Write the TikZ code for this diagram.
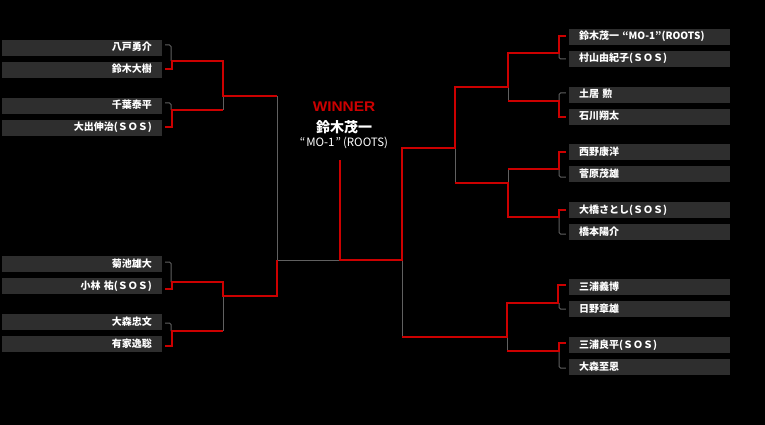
\documentclass[tikz,border=0pt]{standalone}
\usepackage{fontspec}
\newfontfamily\jp{Noto Sans CJK JP}
\newfontfamily\lsans{Liberation Sans}[BoldFont={Liberation Sans Bold}]
\definecolor{boxgray}{HTML}{2E2E2E}
\definecolor{wred}{HTML}{CC0000}
\definecolor{lgray}{HTML}{606060}
\tikzset{
  namebox/.style={fill=boxgray, text=white, minimum height=16pt, inner ysep=0pt, inner xsep=10pt,
    font=\jp\bfseries\fontsize{10}{10}\selectfont, text height=7.5pt, text depth=1.5pt},
  lbox/.style={namebox, text width=140pt, align=right},
  rbox/.style={namebox, text width=141pt, align=left},
  win/.style={draw=wred, line width=2pt},
  lose/.style={draw=lgray, line width=1pt},
  stub/.style={lose, rounded corners=1.5pt},
}
\begin{document}
\begin{tikzpicture}[x=1pt,y=-1pt]
\fill[black] (0,0) rectangle (765,425);
\useasboundingbox (0,0) rectangle (765,425);
% left boxes
\node[lbox] (L1) at (82,48) {八戸勇介};
\node[lbox] (L2) at (82,70) {鈴木大樹};
\node[lbox] (L3) at (82,106) {千葉泰平};
\node[lbox] (L4) at (82,128) {大出伸治(ＳＯＳ)};
\node[lbox] (L5) at (82,264) {菊池雄大};
\node[lbox] (L6) at (82,286) {小林 祐(ＳＯＳ)};
\node[lbox] (L7) at (82,322) {大森忠文};
\node[lbox] (L8) at (82,344) {有家逸聡};
% right boxes
\node[rbox] (R1) at (649.5,37) {鈴木茂一 “MO-1”(ROOTS)};
\node[rbox] (R2) at (649.5,59) {村山由紀子(ＳＯＳ)};
\node[rbox] (R3) at (649.5,95) {土居 勲};
\node[rbox] (R4) at (649.5,117) {石川翔太};
\node[rbox] (R5) at (649.5,152) {西野康洋};
\node[rbox] (R6) at (649.5,174) {菅原茂雄};
\node[rbox] (R7) at (649.5,210) {大橋さとし(ＳＯＳ)};
\node[rbox] (R8) at (649.5,232) {橋本陽介};
\node[rbox] (R9) at (649.5,287) {三浦義博};
\node[rbox] (R10) at (649.5,309) {日野章雄};
\node[rbox] (R11) at (649.5,345) {三浦良平(ＳＯＳ)};
\node[rbox] (R12) at (649.5,367) {大森至恩};
% winner
\node[text=wred, font=\lsans\bfseries\fontsize{14}{15}\selectfont, xscale=1.1, inner sep=0pt] (WL) at (344,107) {WINNER};
\node[text=white, font=\jp\bfseries\fontsize{14}{15}\selectfont, inner sep=0pt] (WN) at (344,127.5) {鈴木茂一};
\node[text=white, font=\jp\fontsize{11.5}{12}\selectfont, inner sep=0pt] (WT) at (344,143) {“\kern1pt MO-1\kern1pt”\kern2pt(ROOTS)};
\coordinate (stem) at (340,160);
% ---- gray (losing) lines ----
\draw[stub] ([xshift=3pt,yshift=3pt]L1.east) -| (171,61);
\draw[stub] ([xshift=3pt,yshift=3pt]L3.east) -| (171,110);
\draw[stub] ([xshift=3pt,yshift=2pt]L5.east) -| (171,282);
\draw[stub] ([xshift=3pt,yshift=-1pt]L7.east) -| (171,331);
\draw[lose] (223,96) -- (223,110);
\draw[lose] (223,296) -- (223,331);
\draw[lose] (277,96) -- (277,260) -- (340,260);
\draw[lose] (402,260) -- (402,337);
\draw[lose] (455,148) -- (455,183);
\draw[lose] (508,87) -- (508,101);
\draw[lose] (508,169) -- (508,183);
\draw[lose] (507,337) -- (507,351);
\draw[stub] ([xshift=-3pt]R2.west) -| (559,53);
\draw[stub] ([xshift=-3pt,yshift=2pt]R3.west) -| (559,101);
\draw[stub] ([xshift=-3pt,yshift=-3pt]R6.west) -| (559,169);
\draw[stub] ([xshift=-3pt,yshift=-2pt]R8.west) -| (559,217);
\draw[stub] ([xshift=-3pt]R10.west) -| (559,303);
\draw[stub] ([xshift=-3pt,yshift=-1pt]R12.west) -| (559,351);
% ---- red (winning) lines ----
\draw[win] ([xshift=3pt,yshift=1pt]L2.east) -| (172,61) -| (223,96) -- (277,96);
\draw[win] ([xshift=3pt,yshift=1pt]L4.east) -| (172,110) -- (223,110);
\draw[win] ([xshift=3pt,yshift=-3pt]L6.east) -| (172,282) -| (223,296) -| (277,260);
\draw[win] ([xshift=3pt,yshift=-2pt]L8.east) -| (172,331) -- (223,331);
\draw[win] (stem) -- (340,260) -| (402,148) -| (455,87) -| (508,53) -| (559,36) -- ([xshift=-3pt,yshift=1pt]R1.west);
\draw[win] ([xshift=-3pt]R4.west) -| (559,101) -- (508,101);
\draw[win] ([xshift=-3pt]R5.west) -| (559,169) -- (508,169);
\draw[win] ([xshift=-3pt]R7.west) -| (559,217) -| (508,183) -- (455,183);
\draw[win] ([xshift=-3pt,yshift=2pt]R9.west) -| (558,303) -| (507,337) -- (402,337);
\draw[win] ([xshift=-3pt,yshift=2pt]R11.west) -| (559,351) -- (507,351);
\end{tikzpicture}
\end{document}
